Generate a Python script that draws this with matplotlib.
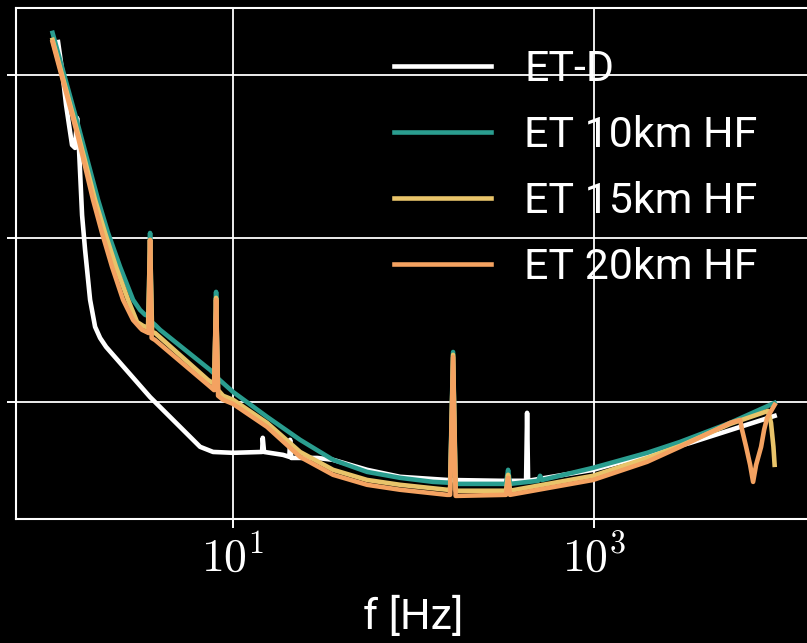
"""
Czułość detektorów ET (ASD) w funkcji częstotliwości - ciemny motyw
"""

import matplotlib
matplotlib.use('Agg')
import matplotlib.pyplot as plt
from matplotlib.ticker import FixedLocator, NullLocator, NullFormatter

# ET-D
freq_etd = [1.073, 1.129, 1.188, 1.234, 1.282, 1.332, 1.367, 1.402, 1.457, 1.514,
            1.614, 1.720, 1.834, 1.979, 3.469, 6.565, 7.749, 10.0, 14.48, 14.6,
            14.85, 18.92, 20.5, 20.7, 21.0, 23.51, 29.2, 35.81, 55.26, 84.21,
            153.3, 301.5, 420.0, 425.4, 431.0, 987.0, 3404.0, 10000.0]
asd_etd = [1.59e-22, 1.07e-22, 6.56e-23, 4.94e-23, 3.73e-23, 3.58e-23, 5.46e-23, 3.48e-23, 1.39e-23, 8.51e-24,
           4.21e-24, 2.88e-24, 2.46e-24, 2.17e-24, 1.07e-24, 5.31e-25, 4.94e-25, 4.88e-25, 4.94e-25, 6.03e-25,
           4.94e-25, 4.74e-25, 4.61e-25, 5.86e-25, 4.54e-25, 4.54e-25, 4.54e-25, 4.42e-25, 3.84e-25, 3.48e-25,
           3.33e-25, 3.29e-25, 3.29e-25, 8.57e-25, 3.29e-25, 3.84e-25, 5.61e-25, 8.21e-25]

# ET 10km HF
freq_10km = [1.0, 1.384, 1.787, 2.030, 2.366, 2.793, 3.053, 3.254, 3.40, 3.469,
             3.54, 3.698, 3.941, 7.458, 7.90, 8.051, 8.20, 8.693, 10.0, 15.43,
             23.51, 35.81, 55.26, 84.21, 128.3, 159.3, 165.5, 171.0, 325.0, 333.9,
             342.0, 490.0, 502.0, 515.0, 987.0, 1968.0, 2996.0, 5669.0, 10000.0]
asd_10km = [1.81e-22, 4.94e-23, 1.72e-23, 1.08e-23, 6.70e-24, 4.21e-24, 3.65e-24, 3.41e-24, 3.35e-24, 1.08e-23,
            3.08e-24, 2.96e-24, 2.76e-24, 1.57e-24, 1.48e-24, 4.71e-24, 1.40e-24, 1.32e-24, 1.15e-24, 8.10e-25,
            5.86e-25, 4.42e-25, 3.73e-25, 3.43e-25, 3.24e-25, 3.20e-25, 2.02e-24, 3.15e-25, 3.15e-25, 3.84e-25,
            3.15e-25, 3.29e-25, 3.53e-25, 3.33e-25, 3.95e-25, 4.88e-25, 5.69e-25, 7.44e-25, 9.86e-25]

# ET 15km HF
freq_15km = [1.0, 1.384, 1.720, 1.954, 2.247, 2.620, 2.939, 3.172, 3.38, 3.469,
             3.56, 3.698, 7.270, 7.85, 8.051, 8.26, 8.804, 10.0, 15.43, 23.51,
             35.81, 55.26, 84.21, 153.3, 159.3, 165.5, 171.0, 325.0, 333.9, 342.0,
             987.0, 1968.0, 2996.0, 5669.0, 9204.0, 9550.0, 9850.0, 10000.0]
asd_15km = [1.64e-22, 4.36e-23, 1.72e-23, 1.08e-23, 6.70e-24, 4.21e-24, 3.08e-24, 2.92e-24, 2.84e-24, 9.79e-24,
            2.68e-24, 2.64e-24, 1.36e-24, 1.29e-24, 4.33e-24, 1.18e-24, 1.09e-24, 1.03e-24, 7.44e-25, 4.94e-25,
            3.84e-25, 3.33e-25, 3.11e-25, 2.90e-25, 2.90e-25, 1.94e-24, 2.86e-25, 2.86e-25, 3.58e-25, 2.86e-25,
            3.53e-25, 4.54e-25, 5.38e-25, 7.33e-25, 8.81e-25, 7.44e-25, 5.31e-25, 4.12e-25]

# ET 20km HF
freq_20km = [1.0, 1.384, 1.677, 1.880, 2.136, 2.458, 2.793, 3.053, 3.132, 3.40,
             3.469, 3.54, 3.698, 7.270, 7.85, 8.051, 8.26, 8.804, 10.0, 15.43,
             23.51, 35.81, 55.26, 84.21, 153.3, 159.3, 165.5, 171.0, 325.0, 333.9,
             342.0, 987.0, 1968.0, 2996.0, 5669.0, 6442.0, 6604.0, 6952.0, 7316.0, 7600.0,
             7898.0, 8418.0, 8746.0, 9087.0, 10000.0]
asd_20km = [1.59e-22, 4.18e-23, 1.72e-23, 1.08e-23, 6.70e-24, 4.21e-24, 3.17e-24, 2.84e-24, 2.76e-24, 2.64e-24,
            9.79e-24, 2.46e-24, 2.39e-24, 1.27e-24, 1.18e-24, 4.21e-24, 1.09e-24, 1.03e-24, 9.72e-25, 7.03e-25,
            4.61e-25, 3.58e-25, 3.11e-25, 2.90e-25, 2.70e-25, 2.70e-25, 1.88e-24, 2.66e-25, 2.70e-25, 3.43e-25,
            2.70e-25, 3.33e-25, 4.30e-25, 5.31e-25, 7.44e-25, 7.76e-25, 6.74e-25, 5.31e-25, 4.12e-25, 3.24e-25,
            4.12e-25, 5.31e-25, 6.74e-25, 7.98e-25, 9.59e-25]

labels = ['ET-D', 'ET 10km HF', 'ET 15km HF', 'ET 20km HF']
colors = ['#ffffff', '#2a9d8f', '#e9c46a', '#f4a261']
x_ticks = [10, 1000]
x_tick_labels = [r'$10^{1}$', r'$10^{3}$']
y_ticks = [1e-24, 1e-23, 1e-22]

plt.rcParams['mathtext.fontset'] = 'cm'
plt.rcParams['font.family'] = ['Roboto', 'DejaVu Sans']

fig = plt.figure(figsize=(8.07, 6.43), dpi=100, facecolor='black')
ax = fig.add_axes([0.0204, 0.1928, 0.9842, 0.7948])
ax.set_facecolor('black')

series = [(freq_etd, asd_etd), (freq_10km, asd_10km),
          (freq_15km, asd_15km), (freq_20km, asd_20km)]
for (f, h), lab, col in zip(series, labels, colors):
    ax.plot(f, h, color=col, lw=3.3, label=lab)

ax.set_xscale('log')
ax.set_yscale('log')
ax.set_xlim(10 ** -0.2, 10 ** 4.2)
ax.set_ylim(1.92e-25, 2.57e-22)

ax.xaxis.set_major_locator(FixedLocator(x_ticks))
ax.set_xticklabels(x_tick_labels)
ax.yaxis.set_major_locator(FixedLocator(y_ticks))
ax.yaxis.set_major_formatter(NullFormatter())
ax.xaxis.set_minor_locator(NullLocator())
ax.yaxis.set_minor_locator(NullLocator())

ax.tick_params(colors='white', length=6.5, width=1.4, labelsize=33, pad=5)
ax.grid(True, color='white', lw=1.3)
for sp in ax.spines.values():
    sp.set_color('white')
    sp.set_linewidth(1.5)

ax.set_xlabel('f [Hz]', color='white', fontsize=31, labelpad=12)

leg = ax.legend(loc='upper left', bbox_to_anchor=(0.488, 0.924),
                bbox_transform=fig.transFigure, frameon=False, fontsize=31,
                handlelength=2.25, handletextpad=0.78, labelspacing=0.58,
                borderpad=0, borderaxespad=0)
for t in leg.get_texts():
    t.set_color('white')

fig.savefig('out.png', dpi=100, facecolor='black')
